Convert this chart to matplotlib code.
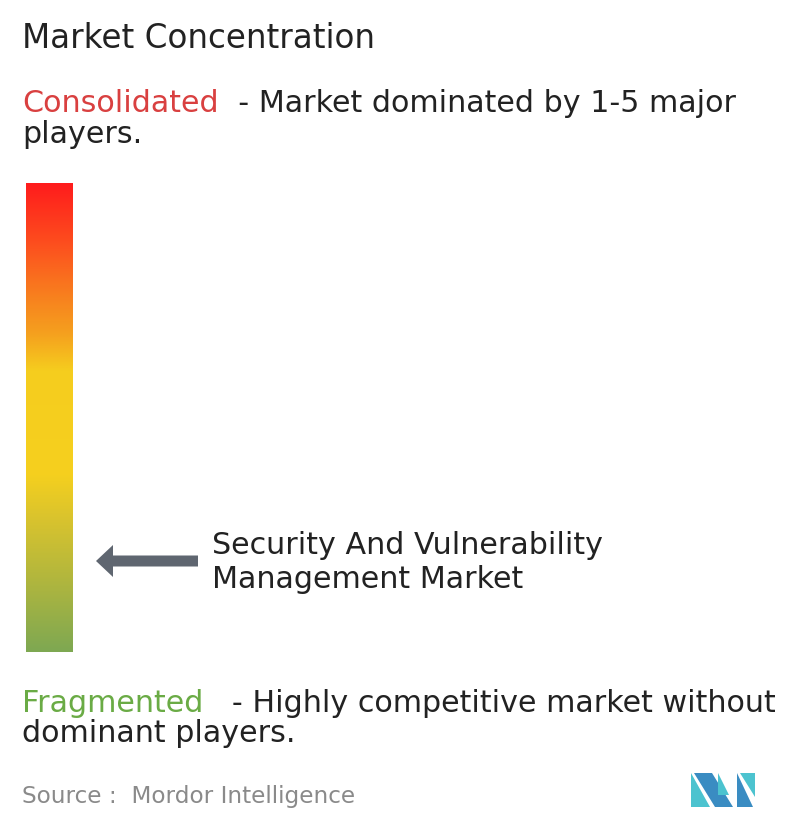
import matplotlib.pyplot as plt
import numpy as np
from matplotlib.colors import LinearSegmentedColormap
from matplotlib.patches import Polygon, FancyArrow

W, H = 796, 834

# gradient stops (position from top, colour)
stop_pos = [0.0, 0.12, 0.24, 0.32, 0.40, 0.62, 0.72, 0.85, 1.0]
stop_col = ["#ff1c1c", "#fd4b1e", "#f8801e", "#f5a01e", "#f5cd1f",
            "#f6d01e", "#d8c32e", "#b0b63e", "#7ea852"]

title = "Market Concentration"
top_label, top_text = "Consolidated", "  - Market dominated by 1-5 major\nplayers."
bottom_label, bottom_text = "Fragmented", "   - Highly competitive market without\ndominant players."
market = "Security And Vulnerability\nManagement Market"
source = "Source :  Mordor Intelligence"

plt.rcParams["font.family"] = ["DejaVu Sans"]
fig = plt.figure(figsize=(W / 100, H / 100), dpi=100)
ax = fig.add_axes([0, 0, 1, 1])
ax.set_xlim(0, W)
ax.set_ylim(H, 0)
ax.axis("off")

cmap = LinearSegmentedColormap.from_list("mc", list(zip(stop_pos, stop_col)))
grad = np.linspace(0, 1, 256).reshape(-1, 1)
ax.imshow(grad, cmap=cmap, aspect="auto", extent=(26, 73, 652, 183))

ax.add_patch(FancyArrow(198, 561, -85, 0, width=11, head_width=32, head_length=17,
                        length_includes_head=False, color="#5f6670", lw=0))

fs = 21.7
ax.text(22, 38, title, fontsize=23.5, color="#222222", va="center")
t = ax.text(22, 103, top_label, fontsize=fs, color="#d94040", va="center")
fig.canvas.draw()
bb = t.get_window_extent()
ax.text(22 + bb.width, 103, top_text.split("\n")[0], fontsize=fs, color="#222222", va="center")
ax.text(22, 134, top_text.split("\n")[1], fontsize=fs, color="#222222", va="center")

t2 = ax.text(22, 703, bottom_label, fontsize=fs, color="#6aab45", va="center")
fig.canvas.draw()
bb2 = t2.get_window_extent()
ax.text(22 + bb2.width, 703, bottom_text.split("\n")[0], fontsize=fs, color="#222222", va="center")
ax.text(22, 734, bottom_text.split("\n")[1], fontsize=fs, color="#222222", va="center")

ax.text(212, 545, market.split("\n")[0], fontsize=fs, color="#222222", va="center")
ax.text(212, 580, market.split("\n")[1], fontsize=fs, color="#222222", va="center")

ax.text(22, 796, source, fontsize=16.7, color="#8a8a8a", va="center")

# logo
ax.add_patch(Polygon([(691, 773), (691, 807), (710, 807)], color="#4cc3cf", lw=0))
ax.add_patch(Polygon([(694, 773), (712, 773), (733, 807), (715, 807)], color="#3a8cc2", lw=0))
ax.add_patch(Polygon([(718, 773), (718, 795), (729, 795)], color="#4cc3cf", lw=0))
ax.add_patch(Polygon([(737, 773), (737, 807), (753, 807)], color="#3a8cc2", lw=0))
ax.add_patch(Polygon([(740, 773), (755, 773), (755, 797)], color="#4cc3cf", lw=0))

fig.savefig("out.png", dpi=100, facecolor="white")
